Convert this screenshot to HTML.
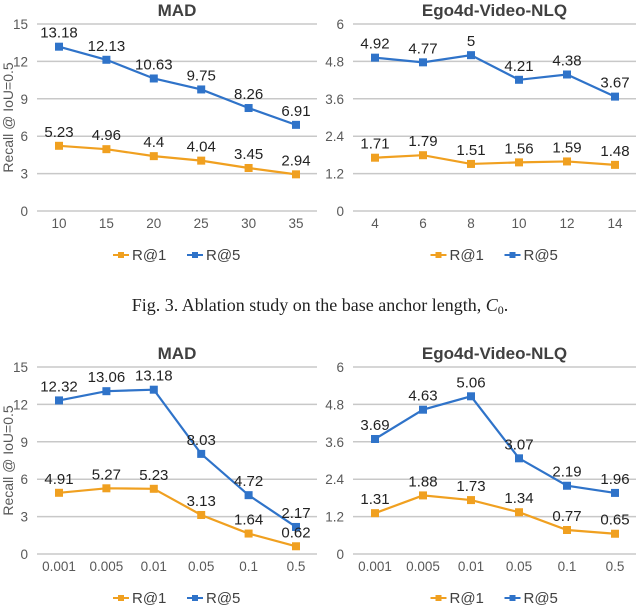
<!DOCTYPE html>
<html><head><meta charset="utf-8"><style>
body{margin:0;background:#fff;width:640px;height:606px;overflow:hidden}
svg{display:block}
</style></head><body>
<svg id="c" width="640" height="606" xmlns="http://www.w3.org/2000/svg" font-family="Liberation Sans, sans-serif">
<text x="320" y="311" text-anchor="middle" font-family="Liberation Serif, serif" font-size="18" fill="#222">Fig. 3. Ablation study on the base anchor length, <tspan font-style="italic">C</tspan><tspan font-size="12" dy="3">0</tspan><tspan dy="-3">.</tspan></text>
</svg>
<script>
const topX1=["10","15","20","25","30","35"];
const topR1a=[5.23,4.96,4.4,4.04,3.45,2.94];
const topR5a=[13.18,12.13,10.63,9.75,8.26,6.91];
const topX2=["4","6","8","10","12","14"];
const topR1b=[1.71,1.79,1.51,1.56,1.59,1.48];
const topR5b=[4.92,4.77,5,4.21,4.38,3.67];
const botX=["0.001","0.005","0.01","0.05","0.1","0.5"];
const botR1a=[4.91,5.27,5.23,3.13,1.64,0.62];
const botR5a=[12.32,13.06,13.18,8.03,4.72,2.17];
const botR1b=[1.31,1.88,1.73,1.34,0.77,0.65];
const botR5b=[3.69,4.63,5.06,3.07,2.19,1.96];
const madTicks=[0,3,6,9,12,15];
const egoTicks=[0,1.2,2.4,3.6,4.8,6];
const svg=document.getElementById('c');
const NS='http://www.w3.org/2000/svg';
function mk(tag,attrs,parent){const e=document.createElementNS(NS,tag);for(const k in attrs)e.setAttribute(k,attrs[k]);(parent||svg).appendChild(e);return e;}
const BLUE='#2f73c9',ORANGE='#f0a020';
function panel(name,title,gx0,gx1,yTop,cats,ticks,r1,r5,showYTitle){
  const g=mk('g',{});
  
  
  const yBot=yTop+187,ymax=ticks[ticks.length-1];
  const y=v=>yBot-(v/ymax)*(yBot-yTop);
  const px0=gx0+22,px1=gx1-21;
  const x=i=>px0+i*(px1-px0)/(cats.length-1);
  const t=mk('text',{x:(gx0+gx1)/2,y:yTop-8,'text-anchor':'middle','font-size':17,'font-weight':'bold',fill:'#404040'},g);t.textContent=title;
  
  
  ticks.forEach(v=>{
    const l=mk('line',{x1:gx0,x2:gx1,y1:y(v),y2:y(v),stroke:'#c8c8c8','stroke-width':1.5},g);
    
    
    const tt=mk('text',{x:gx0-9,y:y(v)+5,'text-anchor':'end','font-size':13.5,fill:'#595959'},g);tt.textContent=String(v);
    
    
  });
  cats.forEach((c,i)=>{
    const tt=mk('text',{x:x(i),y:yBot+17,'text-anchor':'middle','font-size':13.5,fill:'#595959'},g);tt.textContent=c;
    
    
  });
  [[r5,BLUE,'r5'],[r1,ORANGE,'r1']].forEach(([d,col,nm])=>{
    const pl=mk('polyline',{points:d.map((v,i)=>x(i)+','+y(v)).join(' '),fill:'none',stroke:col,'stroke-width':2.2},g);
    
    
    d.forEach((v,i)=>{
      const r=mk('rect',{x:x(i)-4,y:y(v)-4,width:8,height:8,fill:col},g);
      
      
      const lb=mk('text',{x:x(i),y:y(v)-9,'text-anchor':'middle','font-size':15,fill:'#222'},g);lb.textContent=String(v);
      
      
    });
  });
  const cx=(gx0+gx1)/2,ly=yBot+44;
  [[ORANGE,'R@1',cx-64],[BLUE,'R@5',cx+10]].forEach(([col,txt,lx])=>{
    mk('line',{x1:lx,x2:lx+16,y1:ly,y2:ly,stroke:col,'stroke-width':2},g);
    mk('rect',{x:lx+5,y:ly-3,width:6,height:6,fill:col},g);
    const tt=mk('text',{x:lx+19,y:ly+5,'font-size':15,fill:'#404040'},g);tt.textContent=txt;
    
    
  });
  if(showYTitle){
    const cy=(yTop+yBot)/2;
    const yt=mk('text',{x:13,y:cy,'text-anchor':'middle','font-size':14,fill:'#595959',transform:'rotate(-90 13 '+cy+')'},g);yt.textContent='Recall @ IoU=0.5';
    
    
  }
}
panel('mad-c0-chart','MAD',37,317,24,topX1,madTicks,topR1a,topR5a,true);
panel('ego-c0-chart','Ego4d-Video-NLQ',353,636,24,topX2,egoTicks,topR1b,topR5b,false);
panel('mad-threshold-chart','MAD',37,317,367,botX,madTicks,botR1a,botR5a,true);
panel('ego-threshold-chart','Ego4d-Video-NLQ',353,636,367,botX,egoTicks,botR1b,botR5b,false);
</script>
</body></html>
